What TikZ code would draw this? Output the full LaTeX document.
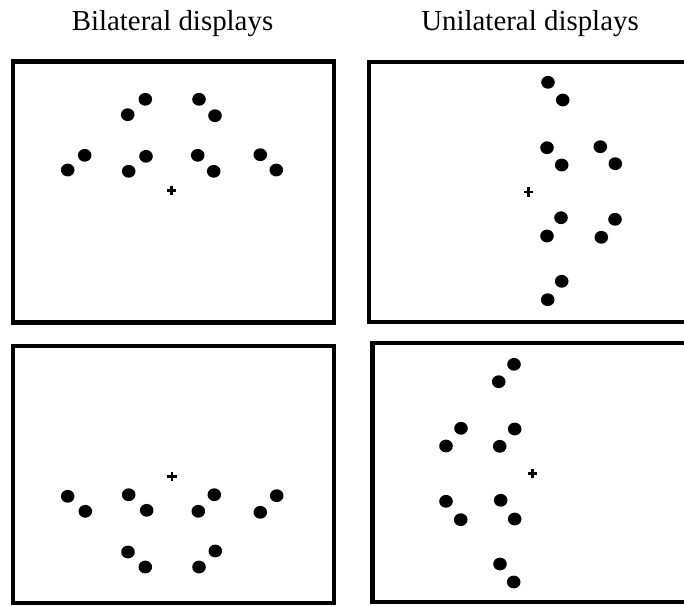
\documentclass[tikz,border=0pt]{standalone}
\usepackage{fontspec}
\setmainfont{Liberation Serif}
\begin{document}
\begin{tikzpicture}[x=1pt,y=-1pt,
  frame/.style={draw=black,line width=4.5pt},
  stim/.style={fill=black},
  fix/.style={draw=black,line width=2.8pt},
  title/.style={anchor=base,inner sep=0pt,font=\fontsize{28.9pt}{34pt}\selectfont}]
\clip (0,0) rectangle (684,605);
\fill[white] (0,0) rectangle (684,605);

% column headings
\node[title] (hb) at (172.5,30.7) {Bilateral displays};
\node[title] (hu) at (530,30.7) {Unilateral displays};

% display frames
\draw[frame] (13,61.7) rectangle (334,322.7);
\draw[frame] (368.8,62) rectangle (700,322.2);
\draw[frame] (13,345.8) rectangle (334,603);
\draw[frame] (372.5,343.2) rectangle (700,602);

% fixation crosses
\foreach \cx/\cy in {171.7/190.7, 528.7/192, 172/476.7, 532.7/473.3}
  \draw[fix] (\cx-4.6,\cy) -- (\cx+4.6,\cy) (\cx,\cy-4.6) -- (\cx,\cy+4.6);

% bilateral, upper field
\foreach \px/\py in {145.3/99.3, 127.7/114.7, 199/99.3, 215/115.7,
                     84.7/155.3, 67.7/170, 146/156.3, 128.7/171.3,
                     197.7/155.3, 213.7/171.3, 260.3/154.7, 276.3/170}
  \fill[stim] (\px,\py) ellipse [x radius=6.8, y radius=6.4];

% unilateral, right field
\foreach \px/\py in {548/82.3, 562.7/100, 547/147.7, 561.7/165,
                     600.3/146.7, 615.3/163.7, 561/217.7, 547/236,
                     615/219.3, 601.3/237.3, 561.7/281.3, 547.7/299.7}
  \fill[stim] (\px,\py) ellipse [x radius=6.8, y radius=6.4];

% bilateral, lower field
\foreach \px/\py in {67.7/496.3, 85.3/511.3, 128.7/494.7, 146.7/510.3,
                     214.3/494.7, 198.3/511.3, 276.7/495.7, 260.3/512.3,
                     128/552, 145.3/567, 215.3/551, 199/567}
  \fill[stim] (\px,\py) ellipse [x radius=6.8, y radius=6.4];

% unilateral, left field
\foreach \px/\py in {514/364.3, 498.7/381.7, 461/428.3, 446/446,
                     514.7/429, 499.7/446.3, 446/501.3, 460.7/519.7,
                     500.7/500.3, 514.7/519, 500/564, 513.7/582}
  \fill[stim] (\px,\py) ellipse [x radius=6.8, y radius=6.4];
\end{tikzpicture}
\end{document}
